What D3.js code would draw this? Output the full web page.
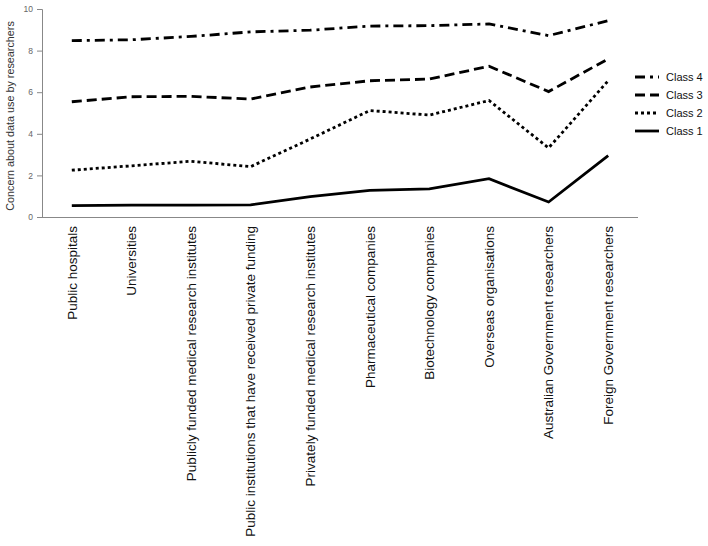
<!DOCTYPE html>
<html><head><meta charset="utf-8">
<script src="https://cdn.jsdelivr.net/npm/d3@7"></script>
<style>body{margin:0;background:#fff;} svg{font-family:"Liberation Sans",Arial,sans-serif;}</style>
</head><body><svg id="c" width="708" height="546"></svg>
<script>
const categories = ["Public hospitals","Universities","Publicly funded medical research institutes","Public institutions that have received private funding","Privately funded medical research institutes","Pharmaceutical companies","Biotechnology companies","Overseas organisations","Australian Government researchers","Foreign Government researchers"];
const class4 = [8.48,8.52,8.68,8.9,8.98,9.18,9.2,9.28,8.72,9.44];
const class3 = [5.54,5.78,5.8,5.67,6.25,6.55,6.63,7.25,6.03,7.6];
const class2 = [2.25,2.46,2.68,2.42,3.75,5.12,4.9,5.6,3.32,6.55];
const class1 = [0.55,0.57,0.57,0.58,0.98,1.28,1.35,1.84,0.72,2.95];
const seriesNames = ["Class 4","Class 3","Class 2","Class 1"];
const yTicks = [0,2,4,6,8,10];

const series = [class4,class3,class2,class1];
const dashes = ["10,5,3,5","10,5","3,3",null];

const svg = d3.select("#c");
const x = d3.scaleBand().domain(categories).range([42,638]);
const y = d3.scaleLinear().domain([0,10]).range([217,9]);

// axes
const ya = svg.append("g").attr("transform","translate(42,0)")
  .call(d3.axisLeft(y).tickValues(yTicks).tickSize(5).tickPadding(4));
ya.select(".domain").attr("stroke","#888");
ya.selectAll(".tick line").attr("stroke","#888");
ya.selectAll("text").attr("fill","#666").style("font-size","8.5px");

const xa = svg.append("g").attr("transform","translate(0,217)")
  .call(d3.axisBottom(x).tickSize(0).tickPadding(0));
xa.select(".domain").attr("stroke","#888").attr("d","M37,0.5H638");
xa.selectAll("text").attr("fill","#111").style("font-size","13.5px")
  .attr("text-anchor","end").attr("transform","rotate(-90)")
  .attr("x",-9).attr("y",0).attr("dy","0.35em");

svg.append("text").attr("transform","translate(14,116) rotate(-90)")
  .attr("text-anchor","middle").attr("fill","#333").style("font-size","10.8px")
  .text("Concern about data use by researchers");

const line = d3.line().x((d,i)=>x(categories[i])+x.bandwidth()/2).y(d=>y(d));
series.forEach((s,k)=>{
  svg.append("path").datum(s).attr("d",line).attr("fill","none")
    .attr("stroke","#000").attr("stroke-width",2.8)
    .attr("stroke-dasharray",dashes[k]);
});

// legend
const lg = svg.append("g");
seriesNames.forEach((n,k)=>{
  const yy = 77 + k*18;
  lg.append("line").attr("x1",635).attr("x2",659).attr("y1",yy).attr("y2",yy)
    .attr("stroke","#000").attr("stroke-width",2.8).attr("stroke-dasharray",dashes[k]);
  lg.append("text").attr("x",666).attr("y",yy).attr("dy","0.35em")
    .attr("fill","#111").style("font-size","11px").text(n);
});
</script></body></html>
